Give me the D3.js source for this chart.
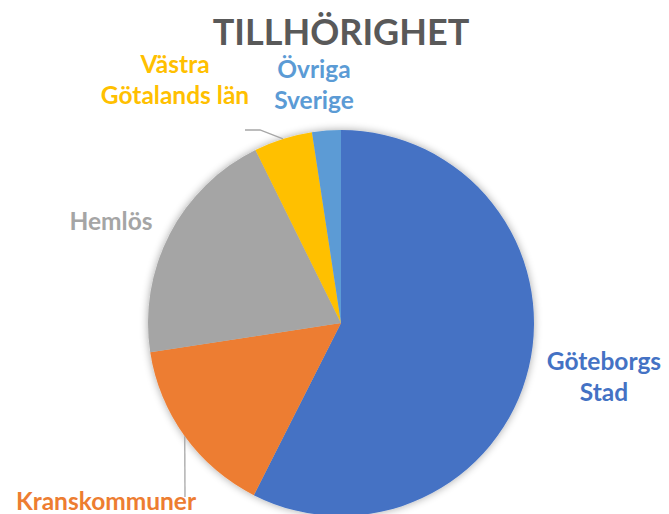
<!DOCTYPE html>
<html>
<head>
<meta charset="utf-8">
<script src="https://cdn.jsdelivr.net/npm/d3@7"></script>
<style>
  body { margin: 0; background: #fff; }
  svg text { font-family: Lato, "Open Sans", sans-serif; font-weight: bold; }
</style>
</head>
<body>
<script>
var categories = ["Göteborgs Stad", "Kranskommuner", "Hemlös", "Västra Götalands län", "Övriga Sverige"];
var values = [57.4, 15.1, 20.1, 4.9, 2.4];
var colors = ["#4472C4", "#ED7D31", "#A5A5A5", "#FFC000", "#5B9BD5"];

// label layout (lines of text, anchor point)
var labelLines = [["Göteborgs", "Stad"], ["Kranskommuner"], ["Hemlös"], ["Västra", "Götalands län"], ["Övriga", "Sverige"]];
var labelPos = [[604, 370], [106, 510], [111, 230], [175, 73], [314, 78]];
var leaders = [null, [[185, 497]], null, [[260, 130], [245, 130]], null];

var w = 669;
var h = 514;
var cx = 341, cy = 323, r = 193;
var lineH = 31;

var svg = d3.select("body")
	.append("svg")
	.attr("width", w)
	.attr("height", h);

var defs = svg.append("defs");
var f = defs.append("filter").attr("id", "shadow")
	.attr("x", "-10%").attr("y", "-10%").attr("width", "120%").attr("height", "120%");
f.append("feGaussianBlur").attr("in", "SourceAlpha").attr("stdDeviation", 4);
f.append("feOffset").attr("dx", 0).attr("dy", 0).attr("result", "b");
f.append("feComponentTransfer").append("feFuncA").attr("type", "linear").attr("slope", 0.35);
var m = f.append("feMerge");
m.append("feMergeNode");
m.append("feMergeNode").attr("in", "SourceGraphic");

svg.append("text")
	.attr("x", 341)
	.attr("y", 45)
	.attr("text-anchor", "middle")
	.style("font-size", "36px")
	.style("fill", "#595959")
	.text("TILLHÖRIGHET");

var pie = d3.pie().sort(null).value(function(d){ return d; });
var arcs = pie(values);
var arc = d3.arc().innerRadius(0).outerRadius(r);
var edge = d3.arc().innerRadius(r).outerRadius(r);

var g = svg.append("g").attr("transform", "translate(" + cx + "," + cy + ")");

g.append("g").attr("filter", "url(#shadow)")
	.selectAll("path")
	.data(arcs)
	.enter()
	.append("path")
	.attr("d", arc)
	.style("fill", function(d, i){ return colors[i]; });

// leader lines from slice edge
svg.selectAll("polyline")
	.data(arcs)
	.enter()
	.filter(function(d, i){ return leaders[i] != null; })
	.append("polyline")
	.attr("points", function(d){
		var c = edge.centroid(d);
		var pts = [[cx + c[0], cy + c[1]]].concat(leaders[d.index]);
		return pts.map(function(p){ return p.join(","); }).join(" ");
	})
	.style("fill", "none")
	.style("stroke", "#A6A6A6")
	.style("stroke-width", 1.3);

var labels = svg.selectAll("text.lbl")
	.data(arcs)
	.enter()
	.append("text")
	.attr("class", "lbl")
	.attr("text-anchor", "middle")
	.style("font-size", "24.5px")
	.style("fill", function(d, i){ return colors[i]; });

labels.each(function(d, i){
	var t = d3.select(this);
	labelLines[i].forEach(function(s, k){
		t.append("tspan")
			.attr("x", labelPos[i][0])
			.attr("y", labelPos[i][1] + k * lineH)
			.text(s);
	});
});
</script>
</body>
</html>
